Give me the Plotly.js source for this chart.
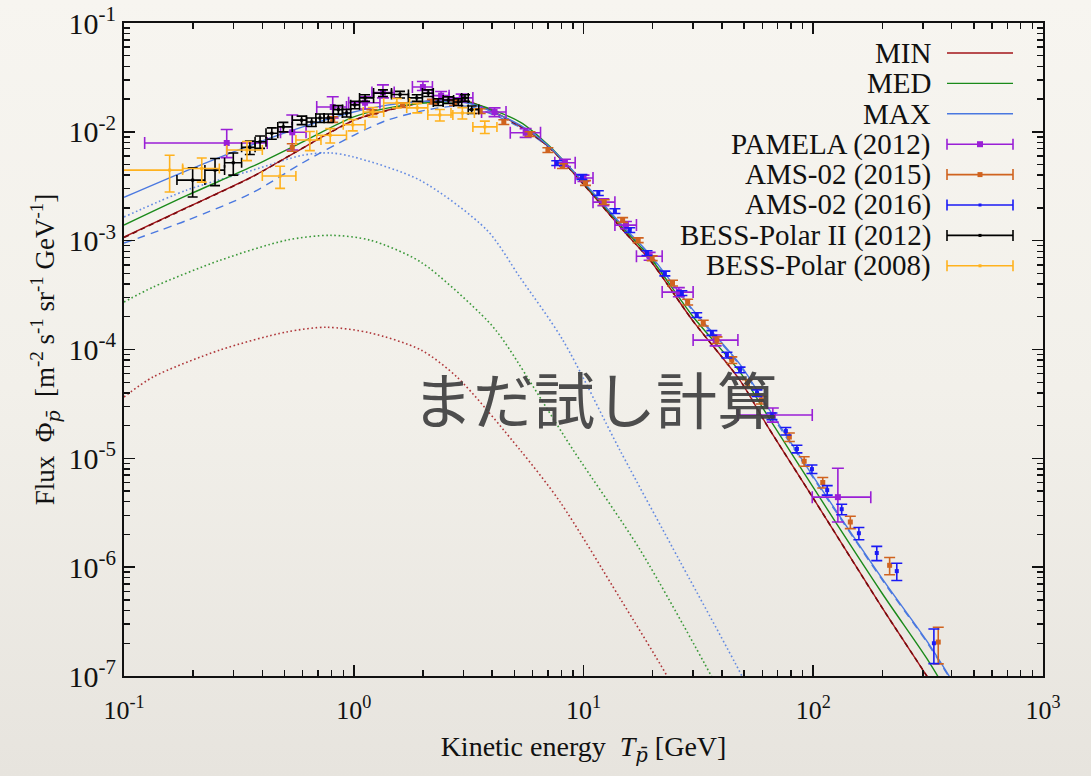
<!DOCTYPE html>
<html><head><meta charset="utf-8">
<script src="https://cdn.plot.ly/plotly-3.0.1.min.js"></script>
<style>
html,body{margin:0;padding:0;width:1091px;height:776px;overflow:hidden;
background:linear-gradient(to bottom,#f7f5f0 0%,#f2f0ea 50%,#e7e4de 100%);}
#chart{width:1091px;height:776px;}
</style></head><body><div id="chart"></div><script>
// ---------------- model curves ----------------
const curveE   = [0.1,0.19,0.36,0.6,1.0,1.4,2.3,3.2,5.3,7.1,10,15,19.5,30,48,63,100,200,312,400];
const minFlux  = [1.08e-3,2.04e-3,3.85e-3,7.1e-3,1.28e-2,1.58e-2,1.96e-2,1.88e-2,1.13e-2,7.2e-3,3.3e-3,1.22e-3,6.6e-4,1.82e-4,5.2e-5,2.0e-5,4.3e-6,4.2e-7,1.0e-7,4.3e-8];
const medFlux  = [1.39e-3,2.63e-3,4.78e-3,8.1e-3,1.37e-2,1.65e-2,1.87e-2,1.85e-2,1.23e-2,7.4e-3,3.4e-3,1.28e-3,7.0e-4,2.0e-4,6.2e-5,2.5e-5,5.4e-6,5.7e-7,1.45e-7,6.1e-8];
const maxFlux  = [2.5e-3,4.45e-3,7.6e-3,1.11e-2,1.52e-2,1.76e-2,1.92e-2,1.82e-2,1.15e-2,7.3e-3,3.45e-3,1.33e-3,7.4e-4,2.3e-4,7.3e-5,3.0e-5,6.8e-6,7.8e-7,2.1e-7,9.2e-8];
const minDashFlux = [1.07e-3,2.03e-3,3.84e-3,7.1e-3,1.27e-2,1.57e-2,1.95e-2,1.87e-2,1.12e-2,7.2e-3,3.3e-3,1.22e-3,6.6e-4,1.82e-4,5.2e-5,2.0e-5,4.3e-6,4.2e-7,1.0e-7,4.3e-8];
const maxDashFlux = [9.5e-4,1.55e-3,2.74e-3,5.2e-3,9.3e-3,1.28e-2,1.65e-2,1.7e-2,1.1e-2,7.1e-3,3.35e-3,1.3e-3,7.2e-4,2.25e-4,7.1e-5,2.9e-5,6.6e-6,7.6e-7,2.05e-7,9.0e-8];

const maxDotE    = [0.1,0.188,0.364,0.6,0.787,0.99,1.94,3.8,5.29,8.13,14.4,26.3,48.9,60];
const maxDotFlux = [1.65e-3,2.92e-3,4.45e-3,6.1e-3,6.4e-3,5.9e-3,3.6e-3,1.25e-3,4.6e-4,1.22e-4,1.19e-5,1.13e-6,1.0e-7,4e-8];
const medDotE    = [0.1,0.134,0.262,0.51,0.79,1.18,1.96,3.8,4.46,9.0,17.6,36,45];
const medDotFlux = [2.73e-4,3.75e-4,6.6e-4,1.01e-3,1.12e-3,1.01e-3,6.35e-4,1.86e-4,1.23e-4,1.2e-5,1.45e-6,1e-7,4e-8];
const minDotE    = [0.1,0.134,0.262,0.51,0.76,1.18,1.96,2.81,5.3,7.89,14.4,23.1,30];
const minDotFlux = [3.66e-5,5.6e-5,9.9e-5,1.45e-4,1.6e-4,1.42e-4,9.9e-5,5.6e-5,1.19e-5,4.0e-6,5.2e-7,1e-7,3.5e-8];

// ---------------- data ----------------
const pamE   = [0.28,0.54,0.81,1.12,1.34,2.0,2.4,2.95,4.1,5.6,8.3,10.0,12.2,15.3,19.4,26,37.6,66.7,128];
const pamF   = [7.9e-3,9.9e-3,1.69e-2,1.85e-2,2.3e-2,2.58e-2,2.15e-2,2.05e-2,1.52e-2,9.8e-3,5.2e-3,3.76e-3,2.26e-3,1.39e-3,7.2e-4,3.37e-4,1.22e-4,2.5e-5,4.4e-6];
const pamElo = [0.123,0.48,0.69,0.95,1.2,1.8,2.2,2.6,3.6,4.8,7.5,9.2,11.0,13.7,17.0,22,30,47,99];
const pamEhi = [0.42,0.62,0.93,1.3,1.5,2.2,2.6,3.3,4.6,6.5,9.2,11.0,13.7,17.0,22,30,47,99,178];
const pamFlo = [5.8e-3,6.8e-3,1.34e-2,1.62e-2,2.05e-2,2.4e-2,1.98e-2,1.88e-2,1.38e-2,8.9e-3,4.8e-3,3.5e-3,2.1e-3,1.29e-3,6.6e-4,3.05e-4,1.08e-4,2.15e-5,2.6e-6];
const pamFhi = [1.05e-2,1.43e-2,2.1e-2,2.1e-2,2.7e-2,2.9e-2,2.35e-2,2.22e-2,1.66e-2,1.07e-2,5.6e-3,4.0e-3,2.42e-3,1.5e-3,7.8e-4,3.7e-4,1.36e-4,2.9e-5,8.1e-6];

const ams15E = [0.54,0.81,1.2,1.63,2.2,2.75,3.55,4.5,5.85,7.0,8.1,10.2,12.3,14.8,17.3,19.9,24.4,28.4,33.2,38.1,44.2,51.7,59.4,78.7,91.3,110,145,215,350];
const ams15F = [7.2e-3,1.3e-2,1.52e-2,1.76e-2,1.9e-2,1.84e-2,1.55e-2,1.23e-2,9.55e-3,6.8e-3,4.85e-3,3.39e-3,2.26e-3,1.55e-3,1.01e-3,6.9e-4,4.08e-4,2.73e-4,1.75e-4,1.22e-4,8.0e-5,4.9e-5,3.43e-5,1.57e-5,9.4e-6,6.0e-6,2.6e-6,1.04e-6,2.05e-7];
const ams15Rel = [0.08,0.06,0.05,0.05,0.05,0.05,0.05,0.05,0.05,0.05,0.05,0.05,0.05,0.05,0.05,0.05,0.06,0.06,0.06,0.07,0.07,0.08,0.08,0.09,0.1,0.11,0.13,0.18,0.37];

const ams16E = [7.65,9.84,11.6,13.7,15.9,18.9,22.6,26.8,31.1,36.2,42.1,48,56.9,66.1,76,84.9,98.7,115,133,158,189,231,335];
const ams16F = [5.16e-3,3.85e-3,2.74e-3,1.87e-3,1.25e-3,7.7e-4,5.0e-4,3.3e-4,2.07e-4,1.42e-4,8.9e-5,6.5e-5,3.98e-5,2.44e-5,1.78e-5,1.22e-5,7.96e-6,5.1e-6,3.41e-6,2.05e-6,1.35e-6,9.2e-7,2.0e-7];
const ams16Rel = [0.05,0.05,0.05,0.05,0.05,0.05,0.05,0.05,0.05,0.05,0.06,0.06,0.07,0.07,0.08,0.08,0.09,0.1,0.11,0.13,0.15,0.18,0.35];

const bess2E = [0.199,0.249,0.299,0.353,0.391,0.44,0.494,0.593,0.656,0.713,0.775,0.857,0.931,1.01,1.12,1.34,1.59,1.88,2.11,2.33,2.58,2.85,3.05,3.26];
const bess2F = [3.6e-3,4.45e-3,5.2e-3,7.2e-3,8.1e-3,9.7e-3,1.11e-2,1.28e-2,1.23e-2,1.34e-2,1.34e-2,1.6e-2,1.49e-2,1.77e-2,2.05e-2,2.27e-2,2.2e-2,2.05e-2,2.27e-2,1.88e-2,1.96e-2,1.88e-2,2.05e-2,1.6e-2];
const bess2Edges = [0.17,0.225,0.274,0.325,0.372,0.415,0.467,0.54,0.623,0.684,0.743,0.815,0.893,0.97,1.06,1.22,1.46,1.73,1.99,2.22,2.45,2.72,2.95,3.15,3.5];
const bess2Rel = [0.3,0.28,0.23,0.14,0.13,0.12,0.1,0.09,0.09,0.09,0.09,0.09,0.08,0.08,0.07,0.07,0.07,0.07,0.07,0.07,0.07,0.07,0.07,0.08];

const bessE   = [0.158,0.218,0.343,0.478,0.644,0.79,0.99,1.21,1.54,1.89,2.37,2.97,3.72];
const bessF   = [4.45e-3,4.6e-3,6.8e-3,3.93e-3,8.4e-3,9.3e-3,1.16e-2,1.52e-2,1.84e-2,1.66e-2,1.43e-2,1.49e-2,1.11e-2];
const bessElo = [0.095,0.18,0.28,0.40,0.56,0.69,0.9,1.1,1.35,1.7,2.1,2.65,3.3];
const bessEhi = [0.18,0.26,0.40,0.56,0.72,0.93,1.12,1.35,1.75,2.1,2.7,3.35,4.2];
const bessRel = [0.37,0.25,0.2,0.23,0.2,0.15,0.12,0.1,0.1,0.1,0.12,0.12,0.13];

const legendNames = ['MIN','MED','MAX','PAMELA (2012)','AMS-02 (2015)','AMS-02 (2016)','BESS-Polar II (2012)','BESS-Polar (2008)'];
const xTickVals = [0.1,1,10,100,1000];
const xTickText = ['10<sup>-1</sup>','10<sup>0</sup>','10<sup>1</sup>','10<sup>2</sup>','10<sup>3</sup>'];
const yTickVals = [1e-7,1e-6,1e-5,1e-4,1e-3,1e-2,1e-1];
const yTickText = ['10<sup>-7</sup>','10<sup>-6</sup>','10<sup>-5</sup>','10<sup>-4</sup>','10<sup>-3</sup>','10<sup>-2</sup>','10<sup>-1</sup>'];

// ---------------- styles ----------------
const C = {min:'#a3151a', med:'#1a8a1a', max:'#4a78e0', pam:'#9a1fd6', a15:'#d0631f', a16:'#1a1af5', b2:'#000000', b1:'#ffb21e'};
const SERIF = '"Liberation Serif","Times New Roman",serif';
const PBAR = '<span style="font-family:\'DejaVu Serif\'"><i>p\u0304</i></span>';

function curve(x, y, color, dash, width){
  return {type:'scatter', mode:'lines', x:x, y:y, hoverinfo:'skip', showlegend:false,
    line:{color:color, dash:dash, width:width, shape:'spline', smoothing:0.8}};
}
function relErr(F, rel){ return F.map((f,i)=>f*rel[i]); }
function dataTrace(E, F, color, msize, ey, ex){
  const t = {type:'scatter', mode:'markers', x:E, y:F, hoverinfo:'skip', showlegend:false,
    marker:{symbol:'square', size:msize, color:color},
    error_y:Object.assign({type:'data', color:color, thickness:1.6, width:5}, ey)};
  if (ex) t.error_x = Object.assign({type:'data', color:color, thickness:1.6, width:5}, ex);
  return t;
}

const traces = [
  curve(minDotE, minDotFlux, 'rgba(163,21,26,0.85)', '1.6px,2.6px', 1.6),
  curve(medDotE, medDotFlux, 'rgba(26,138,26,0.85)', '1.6px,2.6px', 1.6),
  curve(maxDotE, maxDotFlux, 'rgba(74,120,224,0.85)', '1.6px,2.6px', 1.6),
  curve(curveE, maxDashFlux, C.max, '8px,6px', 1.4),
  curve(curveE, minFlux, C.min, 'solid', 1.4),
  curve(curveE, minDashFlux, '#7a0a0e', '5px,4px', 1.6),
  curve(curveE, medFlux, C.med, 'solid', 1.4),
  curve(curveE, maxFlux, C.max, 'solid', 1.4),
  dataTrace(pamE, pamF, C.pam, 6,
    {symmetric:false, array:pamFhi.map((h,i)=>h-pamF[i]), arrayminus:pamF.map((f,i)=>f-pamFlo[i]), width:6},
    {symmetric:false, array:pamEhi.map((h,i)=>h-pamE[i]), arrayminus:pamE.map((e,i)=>e-pamElo[i]), width:6}),
  dataTrace(ams15E, ams15F, C.a15, 5, {array:relErr(ams15F, ams15Rel), width:5.5}),
  dataTrace(ams16E, ams16F, C.a16, 4, {array:relErr(ams16F, ams16Rel), width:5.5}),
  dataTrace(bess2E, bess2F, C.b2, 3,
    {array:relErr(bess2F, bess2Rel), width:5},
    {symmetric:false, array:bess2E.map((e,i)=>bess2Edges[i+1]-e), arrayminus:bess2E.map((e,i)=>e-bess2Edges[i]), width:5}),
  dataTrace(bessE, bessF, C.b1, 3,
    {array:relErr(bessF, bessRel), width:5},
    {symmetric:false, array:bessEhi.map((h,i)=>h-bessE[i]), arrayminus:bessE.map((e,i)=>e-bessElo[i]), width:5})
];

// minor ticks
const xMinor = []; for (let d=-1; d<3; d++) for (let m=2; m<10; m++) xMinor.push(m*Math.pow(10,d));
const yMinor = []; for (let d=-7; d<-1; d++) for (let m=2; m<10; m++) yMinor.push(m*Math.pow(10,d));

// ---------------- legend (gnuplot style: text right, sample left) ----------------
const L = 124, R = 1043, T = 23, B = 676;
const PX = p => (p - L) / (R - L);
const PY = p => (B - p) / (B - T);
const legStyle = [
  {c:C.min, k:'line'}, {c:C.med, k:'line'}, {c:C.max, k:'line'},
  {c:C.pam, k:'err', m:6}, {c:C.a15, k:'err', m:5}, {c:C.a16, k:'err', m:3},
  {c:C.b2, k:'err', m:3}, {c:C.b1, k:'err', m:3}
];
const annotations = [], shapes = [];
legendNames.forEach((name, i) => {
  const py = 53 + i * 30.4;
  annotations.push({xref:'paper', yref:'paper', x:PX(933), y:PY(py), xanchor:'right', yanchor:'middle',
    text:name, showarrow:false, font:{family:SERIF, size:29, color:'#111'}});
  const s = legStyle[i];
  const w = s.k === 'line' ? 1.4 : 1.6;
  shapes.push({type:'line', xref:'paper', yref:'paper', x0:PX(947), x1:PX(1013), y0:PY(py), y1:PY(py), line:{color:s.c, width:w}});
  if (s.k === 'err') {
    [947, 1013].forEach(px => shapes.push({type:'line', xref:'paper', yref:'paper', x0:PX(px), x1:PX(px), y0:PY(py-5.5), y1:PY(py+5.5), line:{color:s.c, width:1.6}}));
    const h = s.m / 2;
    shapes.push({type:'rect', xref:'paper', yref:'paper', x0:PX(980-h), x1:PX(980+h), y0:PY(py-h), y1:PY(py+h), fillcolor:s.c, line:{width:0}});
  }
});
annotations.push({xref:'paper', yref:'paper', x:PX(595), y:PY(397), xanchor:'center', yanchor:'middle',
  text:'まだ試し計算', showarrow:false, opacity:0.92,
  font:{family:'"Noto Sans CJK JP","Noto Sans CJK SC",sans-serif', size:61, color:'#404040'}});

const axisCommon = {
  type:'log', showline:true, linecolor:'#111', linewidth:2, mirror:'allticks',
  ticks:'inside', ticklen:11, tickwidth:1.6, tickcolor:'#111', tickmode:'array',
  showgrid:false, zeroline:false,
  minor:{ticks:'inside', ticklen:6, tickwidth:1.4, tickcolor:'#111', tickmode:'array', showgrid:false}
};
const layout = {
  width:1091, height:776,
  margin:{l:L, r:1091-R, t:T, b:776-B},
  paper_bgcolor:'rgba(0,0,0,0)', plot_bgcolor:'rgba(0,0,0,0)',
  showlegend:false,
  font:{family:SERIF, color:'#111'},
  xaxis:Object.assign({}, axisCommon, {range:[-1,3], tickvals:xTickVals, ticktext:xTickText, ticklabelstandoff:10,
    tickfont:{family:SERIF, size:26, color:'#111'},
    minor:Object.assign({}, axisCommon.minor, {tickvals:xMinor}),
    title:{text:'Kinetic energy\u00a0\u00a0<i>T</i><sub>' + PBAR + '</sub>\u00a0[GeV]', font:{family:SERIF, size:28, color:'#111'}, standoff:12}}),
  yaxis:Object.assign({}, axisCommon, {range:[-7,-1], tickvals:yTickVals, ticktext:yTickText,
    tickfont:{family:SERIF, size:30, color:'#111'},
    minor:Object.assign({}, axisCommon.minor, {tickvals:yMinor}),
    title:{text:'Flux\u00a0\u00a0\u03A6<sub>' + PBAR + '</sub>\u00a0\u00a0[m<sup>-2</sup> s<sup>-1</sup> sr<sup>-1</sup> GeV<sup>-1</sup>]', font:{family:SERIF, size:27, color:'#111'}, standoff:6}}),
  annotations:annotations, shapes:shapes
};
Plotly.newPlot('chart', traces, layout, {displayModeBar:false, staticPlot:true});
</script></body></html>
